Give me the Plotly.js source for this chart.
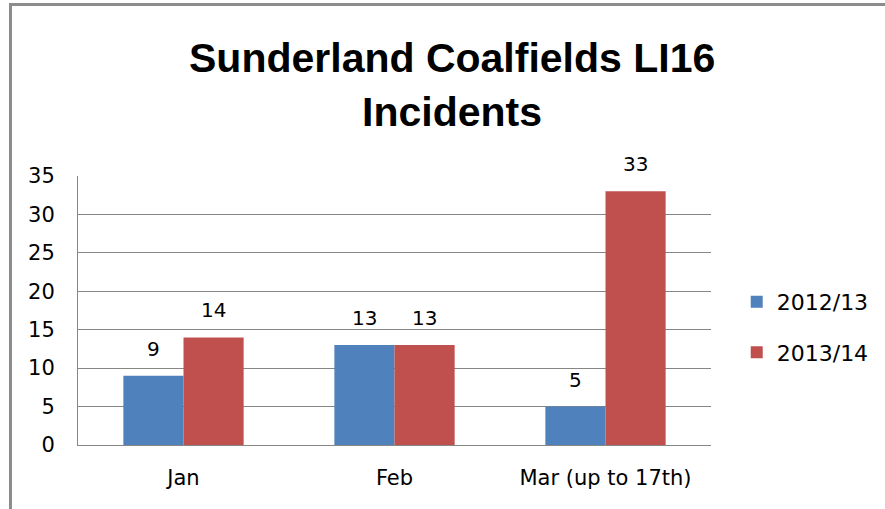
<!DOCTYPE html>
<html>
<head>
<meta charset="utf-8">
<script src="https://cdn.plot.ly/plotly-3.0.1.min.js"></script>
<style>
html,body{margin:0;padding:0;background:#fff;overflow:hidden;}
#frame{position:absolute;left:9px;top:3px;width:2000px;height:2000px;border-left:3px solid #8c8c8c;border-top:3px solid #8c8c8c;}
#chart{position:absolute;left:0;top:0;width:885px;height:509px;}
</style>
</head>
<body>
<div id="frame"></div>
<div id="chart"></div>
<script>
var categories = ["Jan", "Feb", "Mar (up to 17th)"];
var seriesNames = ["2012/13", "2013/14"];
var values2012 = [9, 13, 5];
var values2013 = [14, 13, 33];
var yTicks = [0, 5, 10, 15, 20, 25, 30, 35];
var titleLines = ["Sunderland Coalfields LI16", "Incidents"];

var colors = ["#4f81bd", "#c0504d"];
var font = "DejaVu Sans, Liberation Sans, sans-serif";
var titleFont = "Liberation Sans, Arial, sans-serif";

var traces = [values2012, values2013].map(function (vals, i) {
  return {
    type: "bar",
    name: seriesNames[i],
    x: categories,
    y: vals,
    marker: {color: colors[i]},
    legendgroup: "g" + i,
    hoverinfo: "skip"
  };
});

var annotations = [];
[values2012, values2013].forEach(function (vals, i) {
  vals.forEach(function (v, j) {
    annotations.push({
      xref: "x", yref: "y", x: categories[j], y: v,
      text: String(v), showarrow: false,
      xanchor: "center", yanchor: "bottom",
      xshift: i === 0 ? -30 : 30, yshift: 13,
      font: {family: font, size: 20, color: "#000"}
    });
  });
});
var titleY = [1.4387, 1.2379];
titleLines.forEach(function (t, k) {
  annotations.push({
    xref: "paper", yref: "paper", x: 0.5915, y: titleY[k],
    text: "<b>" + t + "</b>", showarrow: false,
    xanchor: "center", yanchor: "middle",
    font: {family: titleFont, size: 41, color: "#000"}
  });
});

var layout = {
  width: 885, height: 509,
  paper_bgcolor: "rgba(0,0,0,0)",
  plot_bgcolor: "rgba(0,0,0,0)",
  margin: {l: 78, r: 173, t: 176, b: 64},
  barmode: "group",
  bargap: 0.43,
  bargroupgap: 0,
  showlegend: true,
  xaxis: {
    type: "category",
    showline: true, linecolor: "#868686", linewidth: 1,
    showgrid: false, ticks: "",
    ticklabelstandoff: 14,
    tickfont: {family: font, size: 21, color: "#000"},
    fixedrange: true
  },
  yaxis: {
    range: [0, 35],
    tickvals: yTicks,
    ticktext: yTicks.map(String),
    showline: true, linecolor: "#868686", linewidth: 1,
    showgrid: true, gridcolor: "#868686", gridwidth: 1,
    zeroline: false, ticks: "",
    ticklabelstandoff: 18,
    tickfont: {family: font, size: 21, color: "#000"},
    fixedrange: true
  },
  legend: {
    x: 1.039, xanchor: "left", y: 0.437, yanchor: "middle",
    font: {family: font, size: 22, color: "#000"},
    tracegroupgap: 19,
    bgcolor: "rgba(0,0,0,0)"
  },
  annotations: annotations
};

Plotly.newPlot("chart", traces, layout, {staticPlot: true, displayModeBar: false});
</script>
</body>
</html>
